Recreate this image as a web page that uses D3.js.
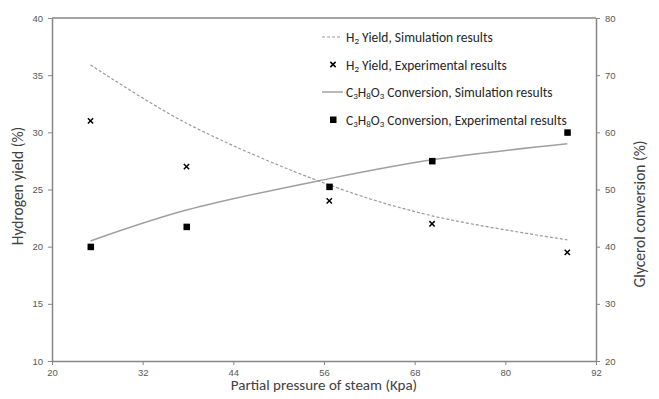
<!DOCTYPE html>
<html>
<head>
<meta charset="utf-8">
<script src="https://cdn.jsdelivr.net/npm/d3@7"></script>
<style>
  body { margin: 0; background: #fff; overflow: hidden; }
  svg { display: block; font-family: Carlito, Calibri, Lato, 'Liberation Sans', sans-serif; }
</style>
</head>
<body>
<svg class="chart"></svg>
<script>
// data
const pressure = [25.1, 37.8, 56.7, 70.3, 88.2];
const h2Sim = [35.9, 30.8, 25.4, 22.7, 20.6];
const h2Exp = [31, 27, 24, 22, 19.5];
const convSim = [41.0, 46.4, 51.9, 55.2, 58.0];
const convExp = [40, 43.5, 50.5, 55, 60];
const xTicks = [20, 32, 44, 56, 68, 80, 92];
const yLeftTicks = [10, 15, 20, 25, 30, 35, 40];
const yRightTicks = [20, 30, 40, 50, 60, 70, 80];

const width = 659;
const height = 399;
const margin = { top: 18, right: 63, bottom: 38, left: 52 };
const innerWidth = width - margin.left - margin.right;
const innerHeight = height - margin.top - margin.bottom;

const svg = d3.select('svg.chart')
	.attr('width', width)
	.attr('height', height);

const g = svg.append('g')
	.attr('transform', `translate(${margin.left}, ${margin.top})`);

const x = d3.scaleLinear().domain([20, 92]).range([0, innerWidth]);
const yL = d3.scaleLinear().domain([10, 40]).range([innerHeight, 0]);
const yR = d3.scaleLinear().domain([20, 80]).range([innerHeight, 0]);

const axisColor = '#868686';
const labelColor = '#595959';

const styleAxis = sel => {
	sel.select('.domain').attr('stroke', axisColor).attr('stroke-width', 1.5);
	sel.selectAll('.tick line').attr('stroke', axisColor);
	sel.selectAll('.tick text').attr('fill', labelColor).style('font-size', '9.5px');
};

g.append('g')
	.attr('transform', `translate(0, ${innerHeight})`)
	.call(d3.axisBottom(x).tickValues(xTicks).tickSize(4).tickSizeOuter(0).tickPadding(4))
	.call(styleAxis);

g.append('g')
	.call(d3.axisLeft(yL).tickValues(yLeftTicks).tickSize(4).tickSizeOuter(0).tickPadding(5))
	.call(styleAxis);

g.append('g')
	.attr('transform', `translate(${innerWidth}, 0)`)
	.call(d3.axisRight(yR).tickValues(yRightTicks).tickSize(4).tickSizeOuter(0).tickPadding(5))
	.call(styleAxis);

// top border
g.append('line')
	.attr('x1', 0).attr('x2', innerWidth)
	.attr('y1', 0).attr('y2', 0)
	.attr('stroke', axisColor).attr('stroke-width', 1.5);

// simulation curves
const h2Line = d3.line()
	.x((d, i) => x(pressure[i]))
	.y(d => yL(d))
	.curve(d3.curveCatmullRom);

const convLine = d3.line()
	.x((d, i) => x(pressure[i]))
	.y(d => yR(d))
	.curve(d3.curveCatmullRom);

g.append('path')
	.datum(h2Sim)
	.attr('d', h2Line)
	.attr('fill', 'none')
	.attr('stroke', '#9a9a9a')
	.attr('stroke-width', 1.2)
	.attr('stroke-dasharray', '3,2');

g.append('path')
	.datum(convSim)
	.attr('d', convLine)
	.attr('fill', 'none')
	.attr('stroke', '#a0a0a0')
	.attr('stroke-width', 1.5);

// experimental points
const cross = d3.symbol().type(d3.symbolX).size(20);

g.selectAll('path.h2exp')
	.data(h2Exp)
	.enter().append('path')
	.attr('class', 'h2exp')
	.attr('d', cross)
	.attr('transform', (d, i) => `translate(${x(pressure[i])}, ${yL(d)})`)
	.attr('stroke', '#000')
	.attr('stroke-width', 1.5);

g.selectAll('rect.convexp')
	.data(convExp)
	.enter().append('rect')
	.attr('class', 'convexp')
	.attr('x', (d, i) => x(pressure[i]) - 3)
	.attr('y', d => yR(d) - 3)
	.attr('width', 6.5)
	.attr('height', 6.5)
	.attr('fill', '#000');

// axis titles
svg.append('text')
	.attr('x', margin.left + innerWidth / 2)
	.attr('y', 390)
	.attr('text-anchor', 'middle')
	.attr('fill', '#404040')
	.style('font-size', '15px')
	.text('Partial pressure of steam (Kpa)');

svg.append('text')
	.attr('transform', 'translate(23, 186) rotate(-90)')
	.attr('text-anchor', 'middle')
	.attr('fill', '#404040')
	.style('font-size', '15.5px')
	.text('Hydrogen yield (%)');

svg.append('text')
	.attr('transform', 'translate(645, 214) rotate(-90)')
	.attr('text-anchor', 'middle')
	.attr('fill', '#404040')
	.style('font-size', '15.5px')
	.text('Glycerol conversion (%)');

// legend
const legendItems = [
	{ kind: 'dash', parts: [['H', 0], ['2', 1], [' Yield, Simulation results', 0]] },
	{ kind: 'cross', parts: [['H', 0], ['2', 1], [' Yield, Experimental results', 0]] },
	{ kind: 'solid', parts: [['C', 0], ['3', 1], ['H', 0], ['8', 1], ['O', 0], ['3', 1], [' Conversion, Simulation results', 0]] },
	{ kind: 'square', parts: [['C', 0], ['3', 1], ['H', 0], ['8', 1], ['O', 0], ['3', 1], [' Conversion, Experimental results', 0]] }
];

const legend = svg.append('g')
	.attr('class', 'legend')
	.attr('transform', 'translate(322, 37)');

const item = legend.selectAll('g')
	.data(legendItems)
	.enter().append('g')
	.attr('transform', (d, i) => `translate(0, ${i * 27.5})`);

item.filter(d => d.kind === 'dash').append('line')
	.attr('x1', 0).attr('x2', 20).attr('y1', 0).attr('y2', 0)
	.attr('stroke', '#9a9a9a').attr('stroke-width', 1.2).attr('stroke-dasharray', '3,2');

item.filter(d => d.kind === 'solid').append('line')
	.attr('x1', 0).attr('x2', 21).attr('y1', 0).attr('y2', 0)
	.attr('stroke', '#a0a0a0').attr('stroke-width', 1.5);

item.filter(d => d.kind === 'cross').append('path')
	.attr('d', cross)
	.attr('transform', 'translate(11, 0)')
	.attr('stroke', '#000').attr('stroke-width', 1.5);

item.filter(d => d.kind === 'square').append('rect')
	.attr('x', 8).attr('y', -3).attr('width', 6.5).attr('height', 6.5)
	.attr('fill', '#000');

const label = item.append('text')
	.attr('x', 24)
	.attr('y', 5)
	.attr('fill', '#262626')
	.style('font-size', '13.5px');

label.selectAll('tspan')
	.data(d => d.parts)
	.enter().append('tspan')
	.style('font-size', d => d[1] ? '9px' : '13.5px')
	.attr('dy', (d, i, nodes) => {
		const prev = i > 0 ? nodes[i - 1].__data__[1] : 0;
		if (d[1] && !prev) return 2;
		if (!d[1] && prev) return -2;
		return 0;
	})
	.text(d => d[0]);
</script>
</body>
</html>
